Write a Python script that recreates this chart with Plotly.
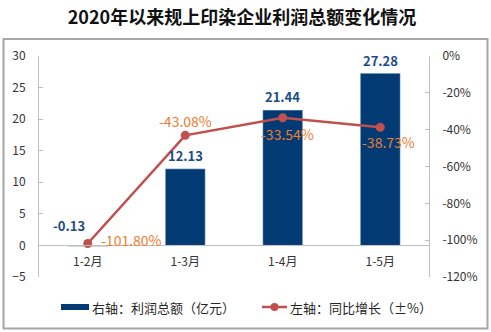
import plotly.graph_objects as go

categories = ["1-2月", "1-3月", "1-4月", "1-5月"]
profit = [-0.13, 12.13, 21.44, 27.28]          # 亿元 (left scale)
growth = [-101.80, -43.08, -33.54, -38.73]     # % (right scale)
profit_labels = ["-0.13", "12.13", "21.44", "27.28"]
growth_labels = ["-101.80%", "-43.08%", "-33.54%", "-38.73%"]
left_ticks = [-5, 0, 5, 10, 15, 20, 25, 30]
right_ticks = [-120, -100, -80, -60, -40, -20, 0]
right_ticktext = ["-120%", "-100%", "-80%", "-60%", "-40%", "-20%", "0%"]

# label placement (style only)
profit_lbl_shift = [(-19, 20), (0, 13), (0, 14), (0, 13)]
growth_lbl_pos = [("left", 11, 3), ("center", 0, 14), ("center", 5, -16), ("center", 8, -15)]

W, H = 491, 332
L, R, T, B = 39, 429, 56, 277  # plot area in pixels
FONT = "Noto Sans CJK SC"
BAR_C = "#023A74"
LINE_C = "#C0504D"
BLUE_T = "#1A4C86"
ORANGE_T = "#EE7D2E"
AXIS_C = "#BFBFBF"


def px(x):
    return (x - L) / (R - L)


def py(y):
    return (B - y) / (B - T)


fig = go.Figure()
fig.add_trace(go.Bar(x=categories, y=profit, marker_color=BAR_C, width=0.41,
                     yaxis="y", showlegend=False, hoverinfo="skip"))
fig.add_trace(go.Scatter(x=categories, y=growth, mode="lines+markers",
                         line=dict(color=LINE_C, width=2.5),
                         marker=dict(color=LINE_C, size=9),
                         yaxis="y2", showlegend=False, hoverinfo="skip"))

annotations = []
for c, v, t, (dx, dy) in zip(categories, profit, profit_labels, profit_lbl_shift):
    annotations.append(dict(x=c, y=max(v, 0), xref="x", yref="y", text=t, showarrow=False,
                            xanchor="center", yanchor="middle", xshift=dx, yshift=dy,
                            font=dict(family=FONT, size=13, color=BLUE_T, weight="bold")))
for c, v, t, (xa, dx, dy) in zip(categories, growth, growth_labels, growth_lbl_pos):
    annotations.append(dict(x=c, y=v, xref="x", yref="y2", text=t, showarrow=False,
                            xanchor=xa, yanchor="middle", xshift=dx, yshift=dy,
                            font=dict(family=FONT, size=14, color=ORANGE_T)))

shapes = [
    # outer border
    dict(type="rect", xref="paper", yref="paper", x0=px(3.5), x1=px(487.5), y0=py(328.5), y1=py(39),
         line=dict(color="#A6A6A6", width=2), fillcolor="rgba(0,0,0,0)", layer="below"),
    # legend bar
    dict(type="rect", xref="paper", yref="paper", x0=px(61), x1=px(89), y0=py(310), y1=py(304),
         line=dict(width=0), fillcolor=BAR_C),
    # legend line
    dict(type="line", xref="paper", yref="paper", x0=px(262), x1=px(287), y0=py(307), y1=py(307),
         line=dict(color=LINE_C, width=2.5)),
    dict(type="circle", xref="paper", yref="paper", x0=px(270.5), x1=px(278.5), y0=py(311), y1=py(303),
         line=dict(width=0), fillcolor=LINE_C),
]
annotations += [
    dict(text="右轴：利润总额（亿元）", xref="paper", yref="paper", x=px(90), y=py(307),
         xanchor="left", yanchor="middle", showarrow=False,
         font=dict(family=FONT, size=13, color="#262626")),
    dict(text="左轴：同比增长（±%）", xref="paper", yref="paper", x=px(288), y=py(307),
         xanchor="left", yanchor="middle", showarrow=False,
         font=dict(family=FONT, size=13, color="#262626")),
]

fig.update_layout(
    width=W, height=H,
    margin=dict(l=L, r=W - R, t=T, b=H - B, pad=0),
    paper_bgcolor="white", plot_bgcolor="white",
    title=dict(text="<b>2020年以来规上印染企业利润总额变化情况</b>", x=242 / W, xanchor="center",
               y=1 - 18 / H, yanchor="middle", font=dict(family=FONT, size=18, color="#111111")),
    font=dict(family=FONT, size=12, color="#333333"),
    xaxis=dict(type="category", anchor="free", position=5 / 35, showline=True, linecolor=AXIS_C,
               linewidth=1, ticks="", showgrid=False, zeroline=False, ticklabelstandoff=5,
               tickfont=dict(family=FONT, size=12, color="#333333")),
    yaxis=dict(range=[-5, 30], tickvals=left_ticks, showgrid=False, zeroline=False,
               showline=True, linecolor=AXIS_C, linewidth=1, ticks="inside", ticklen=4,
               tickcolor=AXIS_C, ticklabelstandoff=10,
               tickfont=dict(family=FONT, size=12, color="#333333")),
    yaxis2=dict(range=[-120, 0], tickvals=right_ticks, ticktext=right_ticktext, overlaying="y",
                side="right", showgrid=False, zeroline=False, showline=True, linecolor=AXIS_C,
                linewidth=1, ticks="inside", ticklen=4, tickcolor=AXIS_C, ticklabelstandoff=10,
                tickfont=dict(family=FONT, size=12, color="#333333")),
    shapes=shapes, annotations=annotations,
)

fig.write_html("out.html")
